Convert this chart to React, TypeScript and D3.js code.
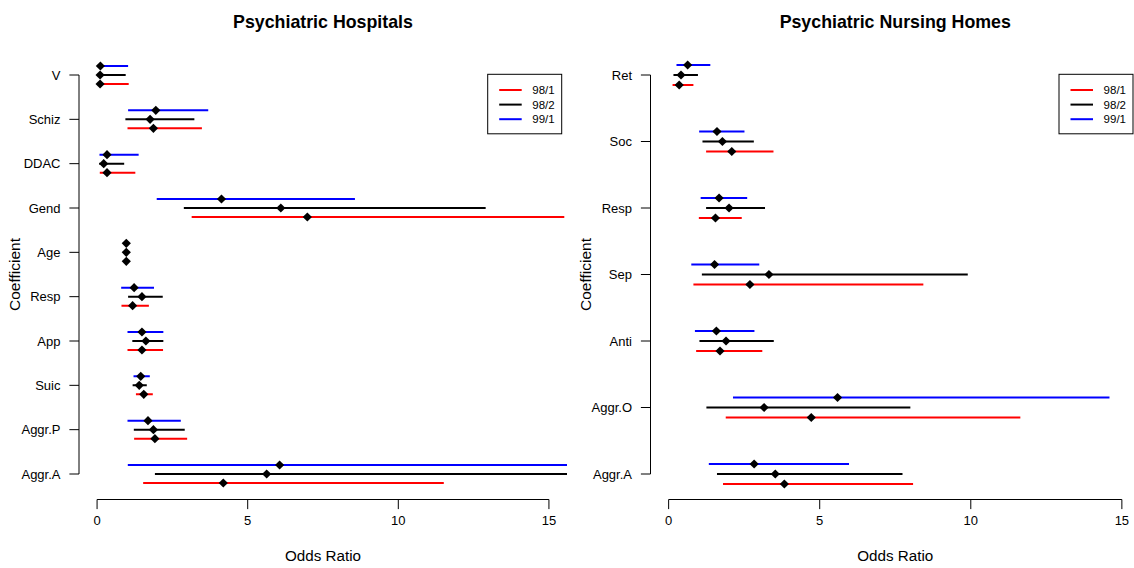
import React from "react";
import * as d3 from "d3";

const seriesNames = ["98/1", "98/2", "99/1"];
const seriesColors = ["#ff0000", "#000000", "#0000ff"];
const xTicks = [0, 5, 10, 15];

// Psychiatric Hospitals
const hospCats = ["V", "Schiz", "DDAC", "Gend", "Age", "Resp", "App", "Suic", "Aggr.P", "Aggr.A"];
const hosp981Est = [0.1, 1.87, 0.33, 6.98, 0.97, 1.18, 1.49, 1.55, 1.92, 4.19];
const hosp981Lo = [0.08, 1.01, 0.09, 3.14, 0.95, 0.81, 1.01, 1.29, 1.23, 1.53];
const hosp981Hi = [1.05, 3.48, 1.27, 15.51, 0.99, 1.72, 2.19, 1.85, 2.99, 11.51];
const hosp982Est = [0.1, 1.76, 0.22, 6.1, 0.97, 1.49, 1.62, 1.4, 1.87, 5.63];
const hosp982Lo = [0.07, 0.94, 0.07, 2.88, 0.95, 1.03, 1.17, 1.18, 1.22, 1.92];
const hosp982Hi = [0.95, 3.23, 0.9, 12.9, 0.99, 2.18, 2.2, 1.65, 2.91, 16.5];
const hosp991Est = [0.11, 1.95, 0.33, 4.13, 0.97, 1.23, 1.49, 1.45, 1.69, 6.06];
const hosp991Lo = [0.08, 1.03, 0.08, 1.98, 0.95, 0.8, 1.01, 1.21, 1.01, 1.02];
const hosp991Hi = [1.03, 3.69, 1.38, 8.56, 0.99, 1.89, 2.2, 1.75, 2.78, 17];

// Psychiatric Nursing Homes
const nursCats = ["Ret", "Soc", "Resp", "Sep", "Anti", "Aggr.O", "Aggr.A"];
const nurs981Est = [0.35, 2.09, 1.55, 2.69, 1.7, 4.72, 3.83];
const nurs981Lo = [0.13, 1.24, 1.0, 0.82, 0.91, 1.89, 1.8];
const nurs981Hi = [0.82, 3.47, 2.42, 8.43, 3.1, 11.64, 8.09];
const nurs982Est = [0.41, 1.78, 2.0, 3.32, 1.9, 3.16, 3.53];
const nurs982Lo = [0.16, 1.12, 1.24, 1.1, 1.02, 1.25, 1.6];
const nurs982Hi = [0.97, 2.82, 3.19, 9.9, 3.48, 8.0, 7.74];
const nurs991Est = [0.63, 1.6, 1.67, 1.52, 1.58, 5.59, 2.83];
const nurs991Lo = [0.26, 1.01, 1.06, 0.75, 0.87, 2.13, 1.33];
const nurs991Hi = [1.38, 2.51, 2.6, 3.0, 2.84, 14.59, 5.97];

type Series = { est: number[]; lo: number[]; hi: number[] };

const FONT = "'Liberation Sans', Arial, Helvetica, sans-serif";

function Panel(props: {
  id: string;
  title: string;
  cats: string[];
  series: Series[];
  left: number;
  right: number;
  offset: number;
  legendX: number;
}) {
  const { id, title, cats, series, left, right, offset, legendX } = props;
  const top = 49.5;
  const bottom = 499.5;
  const x = d3.scaleLinear().domain([-0.6, 15.6]).range([left, right]);
  const y = d3.scalePoint<string>().domain(cats).range([75, 474]);
  const diamond = (cx: number, cy: number) => {
    const r = 4.6;
    return `M${cx},${cy - r}L${cx + r},${cy}L${cx},${cy + r}L${cx - r},${cy}Z`;
  };
  // vertical order: series 0 (red) lowest, 1 (black) middle, 2 (blue) top
  const dy = [offset, 0, -offset];
  const legendTop = 74.3;
  const legendW = 74;
  const legendH = 59.5;
  return (
    <g>
      <defs>
        <clipPath id={id}>
          <rect x={left} y={top} width={right - left} height={bottom - top} />
        </clipPath>
      </defs>
      <text
        x={(left + right) / 2}
        y={28}
        textAnchor="middle"
        fontFamily={FONT}
        fontWeight="bold"
        fontSize={17.8}
      >
        {title}
      </text>
      <g clipPath={`url(#${id})`}>
        {series.map((s, si) =>
          cats.map((c, ci) => (
            <line
              key={`l${si}-${ci}`}
              x1={x(s.lo[ci])}
              x2={x(s.hi[ci])}
              y1={(y(c) as number) + dy[si]}
              y2={(y(c) as number) + dy[si]}
              stroke={seriesColors[si]}
              strokeWidth={2}
            />
          ))
        )}
        {series.map((s, si) =>
          cats.map((c, ci) => (
            <path
              key={`p${si}-${ci}`}
              d={diamond(x(s.est[ci]), (y(c) as number) + dy[si])}
              fill="#000"
            />
          ))
        )}
      </g>
      {/* y axis */}
      <line x1={left} x2={left} y1={y(cats[0])} y2={y(cats[cats.length - 1])} stroke="#000" strokeWidth={1} />
      {cats.map((c) => (
        <g key={`yt${c}`}>
          <line x1={left - 9.6} x2={left} y1={y(c)} y2={y(c)} stroke="#000" strokeWidth={1} />
          <text
            x={left - 18.5}
            y={(y(c) as number) + 4.6}
            textAnchor="end"
            fontFamily={FONT}
            fontSize={13}
          >
            {c}
          </text>
        </g>
      ))}
      {/* x axis */}
      <line x1={x(xTicks[0])} x2={x(xTicks[xTicks.length - 1])} y1={bottom} y2={bottom} stroke="#000" strokeWidth={1} />
      {xTicks.map((t) => (
        <g key={`xt${t}`}>
          <line x1={x(t)} x2={x(t)} y1={bottom} y2={bottom + 9.6} stroke="#000" strokeWidth={1} />
          <text x={x(t)} y={524.5} textAnchor="middle" fontFamily={FONT} fontSize={13}>
            {t}
          </text>
        </g>
      ))}
      <text x={(left + right) / 2} y={561} textAnchor="middle" fontFamily={FONT} fontSize={15.2}>
        Odds Ratio
      </text>
      <text
        transform={`translate(${left - 59.5},${(top + bottom) / 2}) rotate(-90)`}
        textAnchor="middle"
        fontFamily={FONT}
        fontSize={15.5}
      >
        Coefficient
      </text>
      {/* legend */}
      <rect x={legendX} y={legendTop} width={legendW} height={legendH} fill="#fff" stroke="#000" strokeWidth={1} />
      {seriesNames.map((n, i) => (
        <g key={`lg${n}`}>
          <line
            x1={legendX + 11.5}
            x2={legendX + 34}
            y1={legendTop + 15.7 + i * 14.6}
            y2={legendTop + 15.7 + i * 14.6}
            stroke={seriesColors[i]}
            strokeWidth={2}
          />
          <text
            x={legendX + 44.6}
            y={legendTop + 15.7 + i * 14.6 + 4.2}
            fontFamily={FONT}
            fontSize={11.5}
          >
            {n}
          </text>
        </g>
      ))}
    </g>
  );
}

export default function App() {
  const hosp: Series[] = [
    { est: hosp981Est, lo: hosp981Lo, hi: hosp981Hi },
    { est: hosp982Est, lo: hosp982Lo, hi: hosp982Hi },
    { est: hosp991Est, lo: hosp991Lo, hi: hosp991Hi },
  ];
  const nurs: Series[] = [
    { est: nurs981Est, lo: nurs981Lo, hi: nurs981Hi },
    { est: nurs982Est, lo: nurs982Lo, hi: nurs982Hi },
    { est: nurs991Est, lo: nurs991Lo, hi: nurs991Hi },
  ];
  return (
    <div style={{ position: "absolute", left: 0, top: 0 }}>
      <svg width={1134} height={568} style={{ display: "block", background: "#fff" }}>
        <Panel
          id="clipHosp"
          title="Psychiatric Hospitals"
          cats={hospCats}
          series={hosp}
          left={79}
          right={567}
          offset={9}
          legendX={487.7}
        />
        <Panel
          id="clipNurs"
          title="Psychiatric Nursing Homes"
          cats={nursCats}
          series={nurs}
          left={650.5}
          right={1140}
          offset={10}
          legendX={1059}
        />
      </svg>
    </div>
  );
}
